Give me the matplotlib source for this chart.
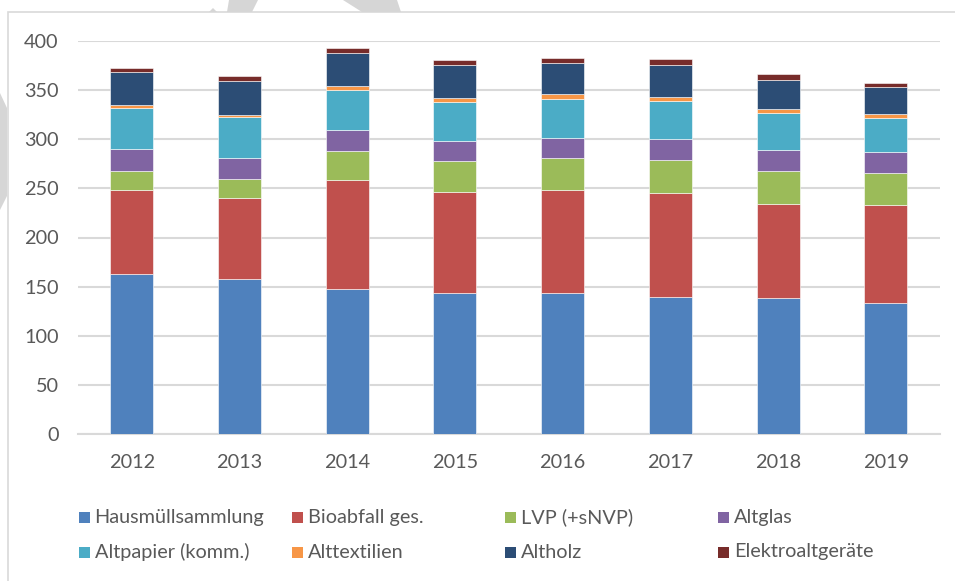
import matplotlib.pyplot as plt
import matplotlib.patches as patches
import numpy as np

years = ['2012', '2013', '2014', '2015', '2016', '2017', '2018', '2019']
series_names = ['Hausmüllsammlung', 'Bioabfall ges.', 'LVP (+sNVP)', 'Altglas',
                'Altpapier (komm.)', 'Alttextilien', 'Altholz', 'Elektroaltgeräte']

hausmuell = [163, 158, 148, 144, 144, 139.5, 139, 133.5]
bioabfall = [85.5, 82, 110.5, 102, 104, 105.5, 95.5, 99.5]
lvp = [19.5, 19.5, 29, 31.5, 33, 34, 33, 32.5]
altglas = [21.5, 21.5, 22, 21, 20.5, 21, 21, 21]
altpapier = [42.5, 41.5, 40, 39, 39.5, 38.5, 38, 35]
alttextilien = [2.5, 2.5, 4, 4.5, 4.5, 4.5, 4.5, 4]
altholz = [33.5, 34.5, 34, 33, 32, 32, 29.5, 27.5]
elektro = [4.5, 4.5, 5.5, 5, 5, 6, 5.5, 4.5]

colors = ['#4F81BD', '#C0504D', '#9BBB59', '#8064A2',
          '#4BACC6', '#F79646', '#2C4D75', '#772C2A']

W, H = 955, 581
text_color = '#595959'
grid_color = '#D9D9D9'
plt.rcParams['font.family'] = ['Lato', 'DejaVu Sans']

fig = plt.figure(figsize=(W / 100, H / 100), dpi=100)
fig.patch.set_facecolor('white')


def px(x0, y0, x1, y1):
    # image pixel box -> figure fraction [left, bottom, width, height]
    return [x0 / W, 1 - y1 / H, (x1 - x0) / W, (y1 - y0) / H]


# chart frame and grey watermark fragments
fig.patches.append(patches.Rectangle((8, H - 600), 960, 600 - 12, transform=None,
                                     fill=False, edgecolor=grid_color, lw=1.2))
for poly in [[(229, 0), (258, 0), (252, 12), (227, 12)],
             [(343, 0), (397, 0), (401, 12), (362, 12)],
             [(209, 12), (213, 8), (217, 12)],
             [(0, 93), (7, 108), (7, 196), (0, 210)]]:
    fig.patches.append(patches.Polygon([(x, H - y) for x, y in poly], closed=True,
                                       transform=None, facecolor='#D6D6D6',
                                       edgecolor='none'))

ax = fig.add_axes(px(78, 40.7, 939.6, 434.3))
x = np.arange(len(years))
data = [hausmuell, bioabfall, lvp, altglas, altpapier, alttextilien, altholz, elektro]
bottom = np.zeros(len(years))
for vals, c, name in zip(data, colors, series_names):
    ax.bar(x, vals, width=0.4, bottom=bottom, color=c, edgecolor='white',
           linewidth=0.4, label=name, zorder=3)
    bottom += np.array(vals)

ax.set_xlim(-0.5, len(years) - 0.5)
ax.set_ylim(0, 400)
ax.set_yticks(range(0, 401, 50))
ax.set_xticks(x)
ax.set_xticklabels(years)
ax.yaxis.grid(True, color=grid_color, lw=1.5, zorder=0)
for s in ['top', 'right', 'left']:
    ax.spines[s].set_visible(False)
ax.spines['bottom'].set_color(grid_color)
ax.spines['bottom'].set_linewidth(1.5)
ax.tick_params(axis='both', length=0, labelsize=14.3, colors=text_color)
ax.tick_params(axis='y', pad=14)
ax.tick_params(axis='x', pad=14.5)

# legend laid out like the original: 4 columns, 2 rows
col_x = [78.5, 291.8, 505, 718]
row_y = [517, 552]
for i, (name, c) in enumerate(zip(series_names, colors)):
    cx = col_x[i % 4]
    cy = row_y[i // 4]
    fig.patches.append(patches.Rectangle((cx, H - cy - 5.5), 11, 11, transform=None,
                                         facecolor=c, edgecolor='none'))
    fig.text((cx + 16) / W, 1 - cy / H, name, fontsize=14.3, color=text_color,
             ha='left', va='center')

fig.savefig('out.png', dpi=100, facecolor='white')
